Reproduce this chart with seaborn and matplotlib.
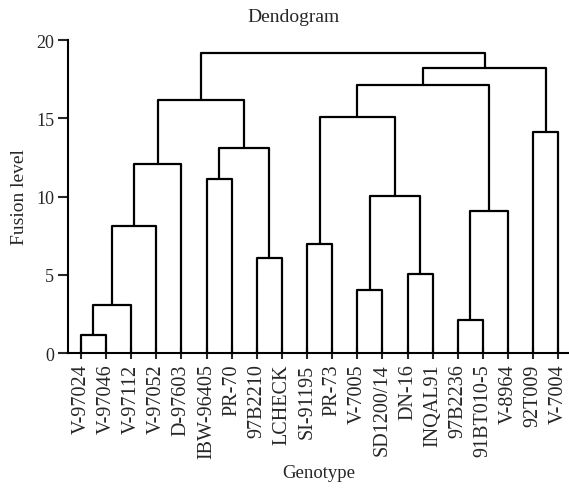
import numpy as np
import pandas as pd
import matplotlib
matplotlib.use("Agg")
import matplotlib.pyplot as plt
import seaborn as sns

# genotypes in dendrogram leaf order
genotypes = ["V-97024", "V-97046", "V-97112", "V-97052", "D-97603", "IBW-96405",
             "PR-70", "97B2210", "LCHECK", "SI-91195", "PR-73", "V-7005",
             "SD1200/14", "DN-16", "INQAL91", "97B2236", "91BT010-5", "V-8964",
             "92T009", "V-7004"]

# merges (scipy-like: ids 0..19 are leaves, 20+ are new clusters in order)
merge_a = [0, 20, 21, 22, 5, 7, 24, 23, 9, 11, 13, 29, 28, 15, 33, 32, 18, 35, 27]
merge_b = [1, 2, 3, 4, 6, 8, 25, 26, 10, 12, 14, 30, 31, 16, 17, 34, 19, 36, 37]
fusion = [1.15, 3.1, 8.1, 12.1, 11.1, 6.1, 13.1, 16.2, 7.0, 4.05, 5.05, 10.05,
          15.1, 2.1, 9.05, 17.1, 14.1, 18.2, 19.2]

sns.set_theme(style="ticks")
plt.rcParams['font.family'] = ['Liberation Serif', 'DejaVu Serif']

# build the U-shaped links
pos = {i: float(i) for i in range(len(genotypes))}
hgt = {i: 0.0 for i in range(len(genotypes))}
rows = []
for k, (a, b, h) in enumerate(zip(merge_a, merge_b, fusion)):
    xs = [pos[a], pos[a], pos[b], pos[b]]
    ys = [hgt[a], h, h, hgt[b]]
    for j, (xx, yy) in enumerate(zip(xs, ys)):
        rows.append({"seg": k, "order": j, "x": xx, "y": yy})
    new = len(genotypes) + k
    pos[new] = (pos[a] + pos[b]) / 2
    hgt[new] = h
links = pd.DataFrame(rows)

fig = plt.figure(figsize=(5.69, 4.89), dpi=100)
ax = fig.add_axes([0.1195, 0.276, 0.8805, 0.640])

sns.lineplot(data=links, x="x", y="y", units="seg", estimator=None, sort=False,
             color="black", linewidth=1.6, ax=ax)

ax.set_xlim(-0.51, 19.42)
ax.set_ylim(0, 20)
ax.set_xticks(range(len(genotypes)))
ax.set_xticklabels(genotypes, rotation=90, fontsize=14.5)
ax.set_yticks([0, 5, 10, 15, 20])
ax.tick_params(axis="y", labelsize=13, length=7, width=1.5, direction="out", pad=3)
ax.tick_params(axis="x", length=9, width=1.5, direction="inout", pad=3)
for s in ["left", "bottom"]:
    ax.spines[s].set_linewidth(1.5)
    ax.spines[s].set_color("black")
ax.spines["top"].set_visible(False)
ax.spines["right"].set_visible(False)
ax.set_xlabel("Genotype", fontsize=13.5, labelpad=4)
ax.set_ylabel("Fusion level", fontsize=14, labelpad=6)
ax.set_title("Dendogram", fontsize=14, x=0.451, pad=14)

fig.savefig("out.png", dpi=100)
